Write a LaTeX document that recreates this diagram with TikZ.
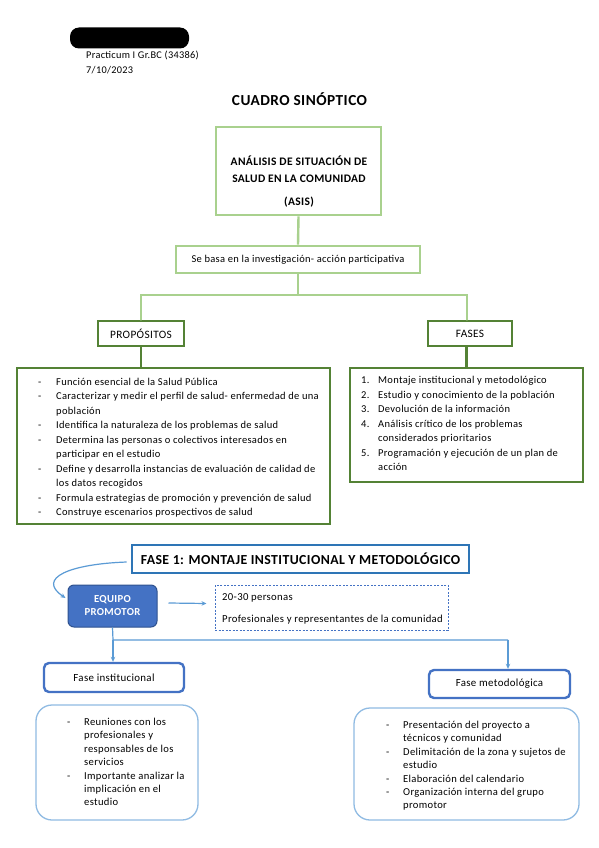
\documentclass[tikz,border=0pt]{standalone}
\usepackage{fontspec}
\setmainfont{Carlito}[LetterSpace=3]
\usetikzlibrary{arrows.meta,calc}
\definecolor{lgreen}{HTML}{A9D18E}
\definecolor{dgreen}{HTML}{548235}
\definecolor{mblue}{HTML}{2E75B6}
\definecolor{fblue}{HTML}{4472C4}
\definecolor{ablue}{HTML}{5B9BD5}
\definecolor{pblue}{HTML}{9DC3E6}
\definecolor{eborder}{HTML}{2F528F}
\begin{document}
\begin{tikzpicture}[x=1pt,y=-1pt,
  lbox/.style={draw=lgreen,line width=2.6pt,inner sep=0pt},
  dbox/.style={draw=dgreen,line width=2.8pt,inner sep=0pt},
  gline/.style={draw=lgreen,line width=2.4pt},
  dline/.style={draw=dgreen,line width=2.6pt},
  fbox/.style={draw=fblue,line width=2.4pt,rounded corners=5pt,inner sep=0pt},
  pbox/.style={draw=pblue!80!ablue,line width=1.3pt,rounded corners=16pt,inner sep=0pt},
  bline/.style={draw=ablue,line width=1.2pt},
  barrow/.style={bline,-{Stealth[length=5pt,width=4.5pt]}},
  txt/.style={font=\fontsize{10.5}{14.55}\selectfont,inner sep=0pt},
  btxt/.style={font=\fontsize{10.6}{13.4}\selectfont,inner sep=0pt},
  lst/.style={inner sep=0pt,anchor=base west}
]
\useasboundingbox (0,0) rectangle (599,848);
\fill[white] (0,0) rectangle (599,848);

% header
\node[fill=black,rounded corners=9pt,minimum width=119pt,minimum height=21pt,inner sep=0pt] (redact) at (129.5,38) {};
\node[txt,anchor=base west,font=\fontsize{10.3}{11}\selectfont] (course) at (86,58.5) {Practicum I Gr.BC (34386)};
\node[txt,anchor=base west,font=\fontsize{10.3}{11}\selectfont] (date) at (86,74) {7/10/2023};
\node[inner sep=0pt,anchor=base,font=\fontsize{15.3}{16}\selectfont\bfseries] (title) at (299.5,106) {CUADRO SINÓPTICO};

% ASIS
\node[lbox,minimum width=165pt,minimum height=88pt] (asis) at (298.5,171) {};
\node[inner sep=0pt,anchor=base,font=\fontsize{11.5}{17}\selectfont\bfseries] (asistxt) at (299,165)
  {\begin{tabular}[t]{@{}c@{}}ANÁLISIS DE SITUACIÓN DE\\ SALUD EN LA COMUNIDAD\\[6pt] (ASIS)\end{tabular}};

\node[lbox,minimum width=244pt,minimum height=27pt,txt] (basa) at (298,259.5) {Se basa en la investigación- acción participativa};

\node[dbox,minimum width=86pt,minimum height=25pt,txt,font=\fontsize{11.3}{13}\selectfont] (props) at (141,333.5) {PROPÓSITOS};
\node[dbox,minimum width=84pt,minimum height=25pt,txt,font=\fontsize{11.3}{13}\selectfont] (fases) at (470,333.5) {FASES};

\coordinate (hl) at (141,295);
\coordinate (hr) at (467,295);
\draw[gline] (asis.south) -- (basa.north);
\draw[gline] (basa.south) -- (basa.south |- hl);
\draw[gline,line cap=round] (props.north) -- (hl) -- (hr) -- (hr |- fases.north);

\node[dbox,minimum width=313pt,minimum height=156pt] (plist) at (173.5,446) {};
\node[dbox,minimum width=233pt,minimum height=114pt] (flist) at (466.5,425) {};
\draw[dline] (props.south) -- (plist.north -| props.south);
\draw[dline] (fases.south -| flist.north) -- (flist.north);

\node[txt,lst] (ptxt) at (38,385) {\begin{tabular}[t]{@{}p{18pt}@{}l@{}}
-& Función esencial de la Salud Pública\\
-& Caracterizar y medir el perfil de salud- enfermedad de una\\
 & población\\
-& Identifica la naturaleza de los problemas de salud\\
-& Determina las personas o colectivos interesados en\\
 & participar en el estudio\\
-& Define y desarrolla instancias de evaluación de calidad de\\
 & los datos recogidos\\
-& Formula estrategias de promoción y prevención de salud\\
-& Construye escenarios prospectivos de salud
\end{tabular}};

\node[txt,lst] (ftxt) at (361,383.5) {\begin{tabular}[t]{@{}p{17pt}@{}l@{}}
1.& Montaje institucional y metodológico\\
2.& Estudio y conocimiento de la población\\
3.& Devolución de la información\\
4.& Análisis crítico de los problemas\\
  & considerados prioritarios\\
5.& Programación y ejecución de un plan de\\
  & acción
\end{tabular}};

% FASE 1
\node[draw=mblue,line width=2.6pt,inner sep=0pt,minimum width=337pt,minimum height=28pt,font=\fontsize{13.8}{16}\selectfont\bfseries] (fase1) at (300.5,559) {FASE 1: MONTAJE INSTITUCIONAL Y METODOLÓGICO};

\node[fill=fblue,draw=eborder,line width=1pt,rounded corners=6pt,minimum width=89pt,minimum height=42pt,inner sep=0pt,text=white,align=center,font=\fontsize{10.7}{13}\selectfont\bfseries] (equipo) at (112.5,606) {EQUIPO\\PROMOTOR};

\node[draw=fblue,dash pattern=on 2pt off 1.5pt,line width=1pt,minimum width=233pt,minimum height=45pt,inner sep=0pt] (dash) at (331.5,607.5) {};
\node[txt,anchor=base west,font=\fontsize{10.7}{12}\selectfont] (d1) at (222,600.5) {20-30 personas};
\node[txt,anchor=base west,font=\fontsize{10.7}{12}\selectfont] (d2) at (222,622.5) {Profesionales y representantes de la comunidad};

\draw[barrow] ($(fase1.west)+(-4,3)$) .. controls (70,564) and (36,578) .. ($(equipo.west)+(-2,-8)$);
\draw[barrow] ($(equipo.east)+(11,-3)$) -- ($(dash.west)+(-8,-4)$);

\node[fbox,minimum width=140pt,minimum height=29pt,txt,font=\fontsize{10.9}{12}\selectfont] (finst) at (114,677.5) {Fase institucional};
\node[fbox,minimum width=141pt,minimum height=28pt,txt,font=\fontsize{10.9}{12}\selectfont] (fmet) at (499.5,684) {Fase metodológica};

\coordinate (bj) at (113,640);
\coordinate (bjr) at (508,640);
\draw[bline] (equipo.south) -- (bj) -- (bjr);
\draw[barrow] (bj) -- (bj |- finst.north);
\draw[barrow] (bjr) -- (bjr |- fmet.north);

\node[pbox,minimum width=162pt,minimum height=115pt] (ilist) at (117,762.5) {};
\node[pbox,minimum width=225pt,minimum height=112pt] (mlist) at (466.5,764) {};

\node[btxt,lst] (itxt) at (67,725.5) {\begin{tabular}[t]{@{}p{17pt}@{}l@{}}
-& Reuniones con los\\
 & profesionales y\\
 & responsables de los\\
 & servicios\\
-& Importante analizar la\\
 & implicación en el\\
 & estudio
\end{tabular}};

\node[btxt,lst] (mtxt) at (386,728.5) {\begin{tabular}[t]{@{}p{17pt}@{}l@{}}
-& Presentación del proyecto a\\
 & técnicos y comunidad\\
-& Delimitación de la zona y sujetos de\\
 & estudio\\
-& Elaboración del calendario\\
-& Organización interna del grupo\\
 & promotor
\end{tabular}};
\end{tikzpicture}
\end{document}
